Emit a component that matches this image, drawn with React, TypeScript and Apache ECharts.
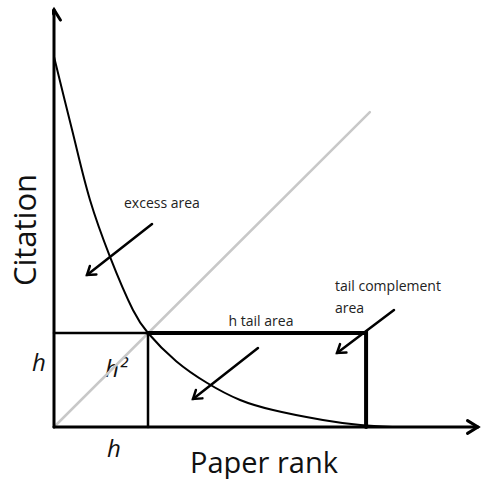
import React, { useEffect, useRef } from "react";
import * as echarts from "echarts";

// Data in units of h (h = 1)
const hValue = 1;
const tailEndRank = 3.32;
const curveRank = [0, 0.19, 0.383, 0.596, 0.84, 1, 1.3, 1.63, 1.98, 2.33, 2.86, 3.26, 3.6];
const curveCitation = [3.94, 3.17, 2.415, 1.81, 1.245, 1, 0.7, 0.468, 0.287, 0.18, 0.074, 0.02, 0.0];
const diagonalEnd = [3.36, 3.35];
const xAxisEnd = 4.51;
const yAxisEnd = 4.44;
const arrowStarts = [[1.043, 2.16], [2.17, 0.84], [3.617, 1.245]];
const arrowTips = [[0.351, 1.617], [1.479, 0.298], [3.011, 0.787]];
const AXIS_MAX = 427 / 94;

function chevron(from: number[], to: number[], len: number, ang: number) {
  const dx = to[0] - from[0];
  const dy = to[1] - from[1];
  const d = Math.hypot(dx, dy);
  const ux = dx / d, uy = dy / d;
  const rot = (a: number) => [
    to[0] - len * (ux * Math.cos(a) - uy * Math.sin(a)),
    to[1] - len * (ux * Math.sin(a) + uy * Math.cos(a)),
  ];
  return [rot(ang), to, rot(-ang)];
}

function lineSeries(data: number[][], color: string, width: number, extra: any = {}) {
  return {
    type: "line",
    data,
    symbol: "none",
    silent: true,
    clip: false,
    lineStyle: { color, width, cap: "round", join: "miter" },
    ...extra,
  };
}

export default function App() {
  const ref = useRef<HTMLDivElement>(null);
  useEffect(() => {
    if (!ref.current) return;
    const chart = echarts.init(ref.current, undefined, { renderer: "svg" });
    const font = "'Open Sans', sans-serif";
    const series: any[] = [];
    series.push(lineSeries([[0, 0], diagonalEnd], "#c8c8c8", 2.5));
    series.push(
      lineSeries(
        curveRank.map((x, i) => [x, curveCitation[i]]),
        "#000",
        2,
        { smooth: 0.35 }
      )
    );
    series.push(lineSeries([[0, hValue], [hValue, hValue]], "#000", 2.5));
    series.push(lineSeries([[hValue, 0], [hValue, hValue]], "#000", 2.5));
    series.push(
      lineSeries([[hValue, hValue], [tailEndRank, hValue], [tailEndRank, 0]], "#000", 4)
    );
    series.push(lineSeries([[0, 0], [xAxisEnd, 0]], "#000", 3));
    series.push(lineSeries([[0, 0], [0, yAxisEnd]], "#000", 3));
    series.push(lineSeries(chevron([0, 0], [xAxisEnd, 0], 0.13, 0.55), "#000", 3));
    series.push(lineSeries(chevron([0, 0], [0, yAxisEnd], 0.13, 0.55), "#000", 3));
    arrowStarts.forEach((s, i) => {
      series.push(lineSeries([s, arrowTips[i]], "#000", 2.5));
      series.push(lineSeries(chevron(s, arrowTips[i], 0.1, 0.6), "#000", 2.5));
    });

    const small = `14px ${font}`;
    const hFont = `italic 500 24px ${font}`;
    chart.setOption({
      animation: false,
      backgroundColor: "#fff",
      grid: { left: 54, right: 0, top: 0, bottom: 52 },
      xAxis: {
        type: "value",
        min: 0,
        max: AXIS_MAX,
        axisLine: { show: false },
        axisTick: { show: false },
        axisLabel: { show: false },
        splitLine: { show: false },
      },
      yAxis: {
        type: "value",
        min: 0,
        max: AXIS_MAX,
        axisLine: { show: false },
        axisTick: { show: false },
        axisLabel: { show: false },
        splitLine: { show: false },
      },
      series,
      graphic: [
        {
          type: "text",
          x: 24,
          y: 230,
          rotation: Math.PI / 2,
          style: {
            text: "Citation",
            font: `31px ${font}`,
            fill: "#111",
            align: "center",
            verticalAlign: "middle",
          },
        },
        {
          type: "text",
          x: 264,
          y: 461,
          style: {
            text: "Paper rank",
            font: `29px ${font}`,
            fill: "#111",
            align: "center",
            verticalAlign: "middle",
          },
        },
        {
          type: "text",
          x: 124,
          y: 202,
          style: { text: "excess area", font: small, fill: "#222", verticalAlign: "middle" },
        },
        {
          type: "text",
          x: 261,
          y: 320,
          style: {
            text: "h tail area",
            font: small,
            fill: "#222",
            align: "center",
            verticalAlign: "middle",
          },
        },
        {
          type: "text",
          x: 335,
          y: 285,
          style: { text: "tail complement", font: small, fill: "#222", verticalAlign: "middle" },
        },
        {
          type: "text",
          x: 335,
          y: 307,
          style: { text: "area", font: small, fill: "#222", verticalAlign: "middle" },
        },
        {
          type: "text",
          x: 39,
          y: 361,
          style: {
            text: "h",
            font: hFont,
            fill: "#111",
            align: "center",
            verticalAlign: "middle",
          },
        },
        {
          type: "text",
          x: 105,
          y: 367,
          style: { text: "h²", font: hFont, fill: "#111", verticalAlign: "middle" },
        },
        {
          type: "text",
          x: 114,
          y: 447,
          style: {
            text: "h",
            font: hFont,
            fill: "#111",
            align: "center",
            verticalAlign: "middle",
          },
        },
      ],
    });
    return () => chart.dispose();
  }, []);
  return (
    <div
      ref={ref}
      style={{ position: "fixed", left: 0, top: 0, width: 481, height: 479 }}
    />
  );
}
